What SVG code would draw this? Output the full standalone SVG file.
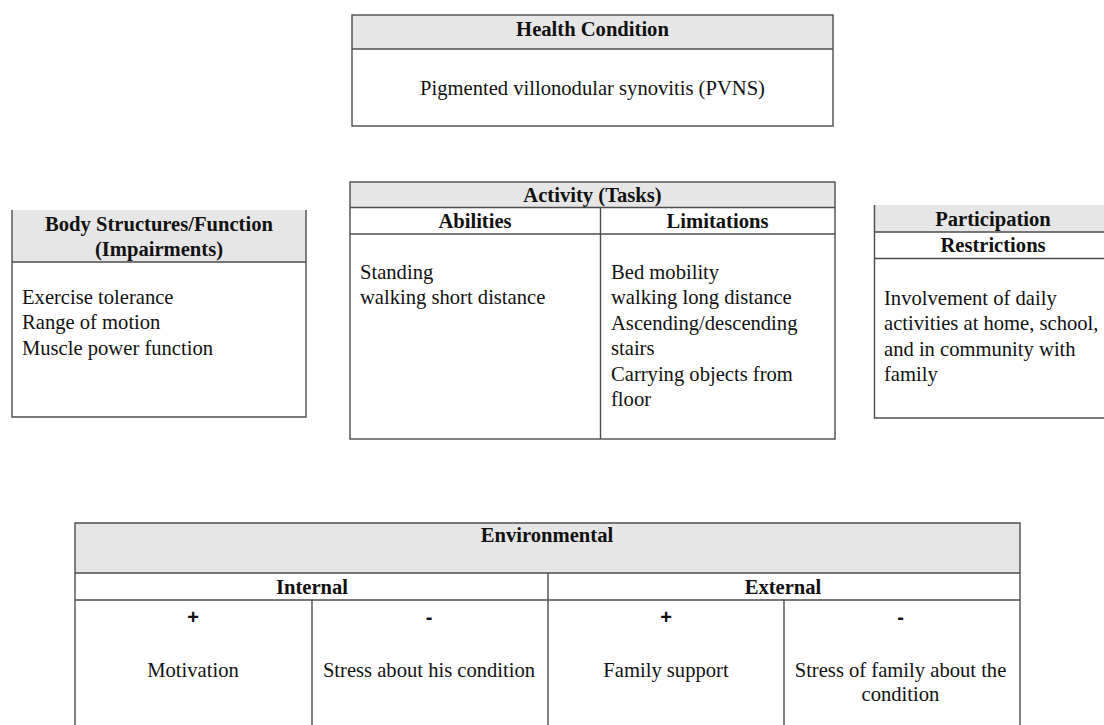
<svg xmlns="http://www.w3.org/2000/svg" width="1104" height="725" viewBox="0 0 1104 725">
<style>
text{font-family:"Liberation Serif","Times New Roman",serif;font-size:20.6px;fill:#111}
.b{font-weight:bold}
.c{text-anchor:middle}
.s{font-family:"Liberation Sans",Arial,sans-serif;font-size:20px}
.hd{fill:#e6e6e6;stroke:none}
.ln{stroke:#4d4d4d;stroke-width:1.4;fill:none}
</style>
<rect width="1104" height="725" fill="#fff"/>
<g id="connectors"/>
<g id="health-condition">
<rect class="hd" x="352" y="15" width="481" height="34"/>
<rect class="ln" x="352" y="15" width="481" height="111"/>
<line class="ln" x1="352" y1="49" x2="833" y2="49"/>
<text class="b c" x="592.5" y="36">Health Condition</text>
<text class="c" x="592.5" y="95">Pigmented villonodular synovitis (PVNS)</text>
</g>
<g id="body-structures">
<rect class="hd" x="12" y="210" width="294" height="52"/>
<path class="ln" d="M12 210V417H306V210M12 262H306"/>
<text class="b c" x="159" y="231">Body Structures/Function</text>
<text class="b c" x="159" y="256">(Impairments)</text>
<text x="22" y="304">Exercise tolerance</text>
<text x="22" y="329">Range of motion</text>
<text x="22" y="355">Muscle power function</text>
</g>
<g id="activity">
<rect class="hd" x="350" y="182" width="485" height="25.5"/>
<rect class="ln" x="350" y="182" width="485" height="257"/>
<path class="ln" d="M350 207.5H835M350 234H835M600.5 207.5V439"/>
<text class="b c" x="592.5" y="202">Activity (Tasks)</text>
<text class="b c" x="475" y="228">Abilities</text>
<text class="b c" x="717.5" y="228">Limitations</text>
<text x="360" y="279">Standing</text>
<text x="360" y="304">walking short distance</text>
<text x="611" y="279">Bed mobility</text>
<text x="611" y="304">walking long distance</text>
<text x="611" y="330">Ascending/descending</text>
<text x="611" y="355">stairs</text>
<text x="611" y="381">Carrying objects from</text>
<text x="611" y="406">floor</text>
</g>
<g id="participation">
<rect class="hd" x="874.5" y="205" width="240" height="27"/>
<path class="ln" d="M874.5 205V418H1110M874.5 232H1110M874.5 258.5H1110"/>
<text class="b c" x="993" y="226">Participation</text>
<text class="b c" x="993" y="252">Restrictions</text>
<text x="884" y="305">Involvement of daily</text>
<text x="884" y="330">activities at home, school,</text>
<text x="884" y="356">and in community with</text>
<text x="884" y="381">family</text>
</g>
<g id="environmental">
<rect class="hd" x="75" y="523" width="945" height="50"/>
<path class="ln" d="M75 735V523H1020V735M75 573H1020M75 600H1020M548 573V735M312 600V735M784 600V735"/>
<text class="b c" x="547" y="542">Environmental</text>
<text class="b c" x="312" y="594">Internal</text>
<text class="b c" x="783" y="594">External</text>
<text class="b c s" x="193" y="624">+</text>
<text class="b c s" x="429" y="624">-</text>
<text class="b c s" x="666" y="624">+</text>
<text class="b c s" x="900.5" y="624">-</text>
<text class="c" x="193" y="677">Motivation</text>
<text class="c" x="429" y="677">Stress about his condition</text>
<text class="c" x="666" y="677">Family support</text>
<text class="c" x="900.5" y="677">Stress of family about the</text>
<text class="c" x="900.5" y="701">condition</text>
</g>
</svg>
